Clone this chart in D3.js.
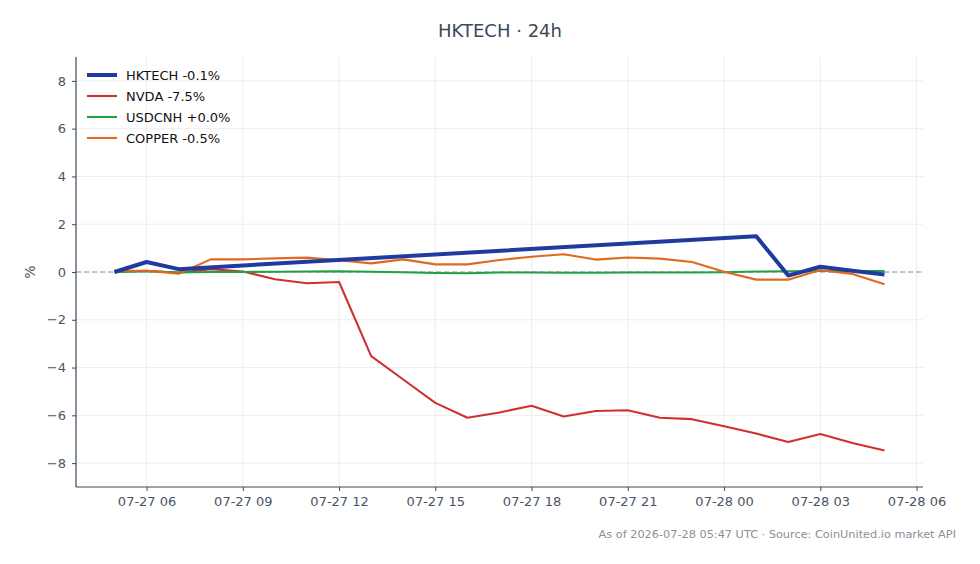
<!DOCTYPE html>
<html>
<head>
<meta charset="utf-8">
<script src="https://cdn.jsdelivr.net/npm/d3@7"></script>
<style>
  body { margin: 0; background: #fff; }
  text { font-family: "DejaVu Sans", sans-serif; }
</style>
</head>
<body>
<script>
// hourly points, 07-27 05:00 -> 07-28 05:00 (UTC)
var hours = ["2026-07-27 05:00","2026-07-27 06:00","2026-07-27 07:00","2026-07-27 08:00","2026-07-27 09:00",
  "2026-07-27 10:00","2026-07-27 11:00","2026-07-27 12:00","2026-07-27 13:00","2026-07-27 14:00",
  "2026-07-27 15:00","2026-07-27 16:00","2026-07-27 17:00","2026-07-27 18:00","2026-07-27 19:00",
  "2026-07-27 20:00","2026-07-27 21:00","2026-07-27 22:00","2026-07-27 23:00","2026-07-28 00:00",
  "2026-07-28 01:00","2026-07-28 02:00","2026-07-28 03:00","2026-07-28 04:00","2026-07-28 05:00"];

// HKTECH has no prints between 07:00 and 01:00 (market closed)
var hktech = [0, 0.42, 0.12, null, null, null, null, null, null, null, null, null, null, null, null,
  null, null, null, null, null, 1.5, -0.15, 0.22, 0.05, -0.1];
var nvda = [0, 0.05, -0.03, 0.12, 0.02, -0.3, -0.47, -0.42, -3.52, -4.5, -5.48, -6.1, -5.88, -5.6, -6.05,
  -5.82, -5.79, -6.1, -6.16, -6.46, -6.76, -7.12, -6.78, -7.16, -7.47];
var usdcnh = [0, 0.03, -0.02, 0.0, 0.0, 0.01, 0.02, 0.03, 0.01, -0.01, -0.04, -0.05, -0.02, -0.02, -0.03,
  -0.03, -0.02, -0.02, -0.02, -0.01, 0.02, 0.03, 0.04, 0.04, 0.04];
var copper = [0.05, 0.05, -0.07, 0.53, 0.53, 0.57, 0.6, 0.49, 0.36, 0.53, 0.32, 0.32, 0.5, 0.64, 0.74,
  0.52, 0.61, 0.56, 0.42, 0.01, -0.32, -0.32, 0.08, -0.08, -0.51];

var seriesNames = ["HKTECH -0.1%", "NVDA -7.5%", "USDCNH +0.0%", "COPPER -0.5%"];
var seriesColors = ["#1f3b9f", "#d0302f", "#22a045", "#e0691f"];
var seriesWidths = [4, 2.1, 2.1, 2.1];
var yTicks = [-8, -6, -4, -2, 0, 2, 4, 6, 8];
var xTicks = ["2026-07-27 06:00","2026-07-27 09:00","2026-07-27 12:00","2026-07-27 15:00","2026-07-27 18:00",
  "2026-07-27 21:00","2026-07-28 00:00","2026-07-28 03:00","2026-07-28 06:00"];

var width = 980, height = 564;
var margin = {left: 76, right: 57, top: 57, bottom: 77};
var parse = d3.utcParse("%Y-%m-%d %H:%M");
var times = hours.map(parse);

var svg = d3.select("body").append("svg").attr("width", width).attr("height", height);

// 5% padding either side of the 24h span
var x = d3.scaleUtc()
  .domain([parse("2026-07-27 03:48"), parse("2026-07-28 06:12")])
  .range([margin.left, width - margin.right]);
var y = d3.scaleLinear().domain([-9, 9]).range([height - margin.bottom, margin.top]);

// grid
var grid = svg.append("g");
grid.selectAll(".gy").data(yTicks).enter().append("line")
  .attr("x1", x.range()[0]).attr("x2", x.range()[1])
  .attr("y1", function (d) { return y(d); }).attr("y2", function (d) { return y(d); })
  .attr("stroke", "#e6e8ec").attr("stroke-width", 0.8);
grid.selectAll(".gx").data(xTicks.map(parse)).enter().append("line")
  .attr("x1", function (d) { return x(d); }).attr("x2", function (d) { return x(d); })
  .attr("y1", y.range()[1]).attr("y2", y.range()[0])
  .attr("stroke", "#e6e8ec").attr("stroke-width", 0.8);

// zero line
svg.append("line")
  .attr("x1", x.range()[0]).attr("x2", x.range()[1])
  .attr("y1", y(0)).attr("y2", y(0))
  .attr("stroke", "#8a94a6").attr("stroke-width", 1).attr("stroke-dasharray", "5,3");

// series
var all = [hktech, nvda, usdcnh, copper];
var line = d3.line()
  .x(function (d) { return x(d.t); })
  .y(function (d) { return y(d.v); });
// draw order: thin lines first, thick HKTECH on top of green/red
var order = [1, 2, 3, 0];
order.forEach(function (i) {
  var pts = [];
  all[i].forEach(function (v, k) { if (v !== null) pts.push({t: times[k], v: v}); });
  svg.append("path").datum(pts)
    .attr("d", line)
    .attr("fill", "none")
    .attr("stroke", seriesColors[i])
    .attr("stroke-width", seriesWidths[i])
    .attr("stroke-linejoin", "round");
});

// axes
var axisColor = "#3d4758";
var yAxis = svg.append("g").attr("transform", "translate(" + margin.left + ",0)")
  .call(d3.axisLeft(y).tickValues(yTicks).tickFormat(d3.format("d")).tickSize(4).tickPadding(6));
var xAxis = svg.append("g").attr("transform", "translate(0," + (height - margin.bottom) + ")")
  .call(d3.axisBottom(x).tickValues(xTicks.map(parse)).tickFormat(d3.utcFormat("%m-%d %H")).tickSize(4).tickPadding(6));
[yAxis, xAxis].forEach(function (a) {
  a.select(".domain").attr("stroke", axisColor).attr("stroke-width", 1.2);
  a.selectAll(".tick line").attr("stroke", axisColor);
  a.selectAll(".tick text").attr("fill", "#4a5466").attr("font-size", 13)
    .attr("font-family", "DejaVu Sans, sans-serif");
});
yAxis.select(".domain").attr("d", "M0," + y.range()[1] + "V" + y.range()[0]);
xAxis.select(".domain").attr("d", "M" + x.range()[0] + ",0H" + x.range()[1]);

svg.append("text").attr("transform", "translate(35," + y(0) + ") rotate(-90)")
  .attr("text-anchor", "middle").attr("font-size", 14).attr("fill", "#4a5466").text("%");

// title + footer
svg.append("text").attr("x", 500).attr("y", 37).attr("text-anchor", "middle")
  .attr("font-size", 18).attr("fill", "#3d4a5c").text("HKTECH · 24h");
svg.append("text").attr("x", 956).attr("y", 538).attr("text-anchor", "end")
  .attr("font-size", 11.3).attr("fill", "#8a8f98")
  .text("As of 2026-07-28 05:47 UTC · Source: CoinUnited.io market API");

// legend
var legend = svg.append("g").attr("transform", "translate(87,75)");
seriesNames.forEach(function (name, i) {
  var g = legend.append("g").attr("transform", "translate(0," + (i * 21) + ")");
  g.append("line").attr("x1", 0).attr("x2", 30).attr("y1", 0).attr("y2", 0)
    .attr("stroke", seriesColors[i]).attr("stroke-width", seriesWidths[i]);
  g.append("text").attr("x", 39).attr("y", 4.5).attr("font-size", 13).attr("fill", "#111")
    .text(name);
});
</script>
</body>
</html>
